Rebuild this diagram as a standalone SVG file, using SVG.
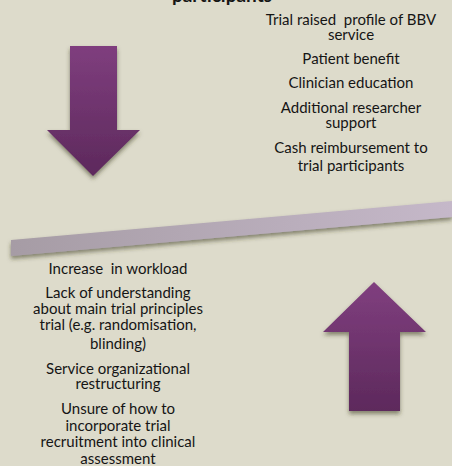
<svg xmlns="http://www.w3.org/2000/svg" width="452" height="466" viewBox="0 0 452 466">
<defs>
<linearGradient id="gDown" x1="0" y1="46" x2="0" y2="176" gradientUnits="userSpaceOnUse">
<stop offset="0" stop-color="#7F3E7E"/><stop offset="1" stop-color="#5D295C"/>
</linearGradient>
<linearGradient id="gUp" x1="0" y1="282" x2="0" y2="411" gradientUnits="userSpaceOnUse">
<stop offset="0" stop-color="#803F7F"/><stop offset="1" stop-color="#5D295C"/>
</linearGradient>
<linearGradient id="gBar" x1="11" y1="0" x2="452" y2="0" gradientUnits="userSpaceOnUse">
<stop offset="0" stop-color="#A69CA5"/><stop offset="1" stop-color="#C5B8C9"/>
</linearGradient>
<filter id="sh" x="-20%" y="-20%" width="140%" height="150%">
<feDropShadow dx="0" dy="3" stdDeviation="2" flood-color="#3a3a20" flood-opacity="0.55"/>
</filter>
<style>
.t{font-family:Lato,"Open Sans","Liberation Sans",sans-serif;font-size:15px;fill:#151515;text-anchor:middle;white-space:pre}
.b{font-weight:bold;font-size:19px}
</style>
</defs>
<rect width="452" height="466" fill="#DDDBCB"/>
<g id="title"><text class="t b" x="222" y="2">participants</text></g>
<g id="connectors">
<polygon id="bar" points="11,240 452,201 452,217 11,256" fill="url(#gBar)" filter="url(#sh)"/>
</g>
<g id="arrow-down"><polygon points="70,46 117,46 117,130 140,130 93,176 47,130 70,130" fill="url(#gDown)" filter="url(#sh)"/></g>
<g id="arrow-up"><polygon points="374,282 426,332 400,332 400,411 349,411 349,332 323,332" fill="url(#gUp)" filter="url(#sh)"/></g>
<g id="benefits">
<text class="t" x="351" y="25" xml:space="preserve">Trial raised  profile of BBV</text>
<text class="t" x="351" y="39.5">service</text>
<text class="t" x="351" y="64">Patient benefit</text>
<text class="t" x="351" y="87.5">Clinician education</text>
<text class="t" x="351" y="112.5">Additional researcher</text>
<text class="t" x="351" y="128">support</text>
<text class="t" x="351" y="152.5">Cash reimbursement to</text>
<text class="t" x="351" y="171">trial participants</text>
</g>
<g id="barriers">
<text class="t" x="118" y="273.5" xml:space="preserve">Increase  in workload</text>
<text class="t" x="118" y="297.5">Lack of understanding</text>
<text class="t" x="118" y="313.5">about main trial principles</text>
<text class="t" x="118" y="329.5">trial (e.g. randomisation,</text>
<text class="t" x="118" y="348.5">blinding)</text>
<text class="t" x="118" y="373.5">Service organizational</text>
<text class="t" x="118" y="388.5">restructuring</text>
<text class="t" x="118" y="413.5">Unsure of how to</text>
<text class="t" x="118" y="430.5">incorporate trial</text>
<text class="t" x="118" y="447">recruitment into clinical</text>
<text class="t" x="118" y="463.5">assessment</text>
</g>
</svg>
